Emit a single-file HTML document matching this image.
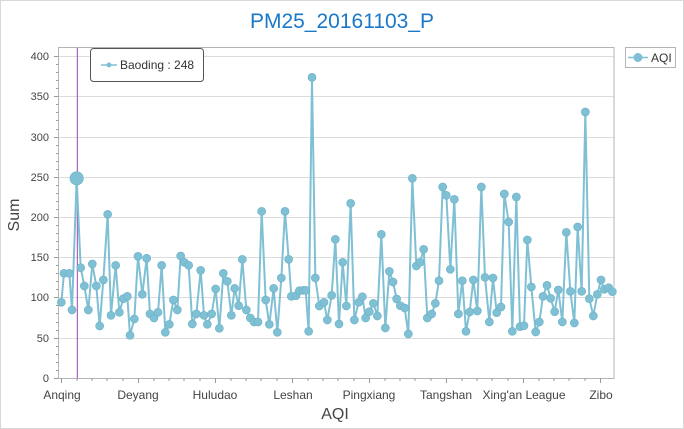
<!DOCTYPE html>
<html><head><meta charset="utf-8"><style>
html,body{margin:0;padding:0;background:#fff}
svg{display:block;font-family:"Liberation Sans",sans-serif}
</style></head><body>
<svg width="684" height="429" viewBox="0 0 684 429" xmlns="http://www.w3.org/2000/svg">
<rect x="0.5" y="0.5" width="683" height="428" fill="#fff" stroke="#d8d8d8"/>
<text x="342" y="28" text-anchor="middle" font-size="21" fill="#1a78c8">PM25_20161103_P</text>
<!-- grid -->
<g stroke="#dcdcdc" stroke-width="1">
<line x1="58" x2="614" y1="56.5" y2="56.5"/><line x1="58" x2="614" y1="96.5" y2="96.5"/>
<line x1="58" x2="614" y1="137.5" y2="137.5"/><line x1="58" x2="614" y1="177.5" y2="177.5"/>
<line x1="58" x2="614" y1="217.5" y2="217.5"/><line x1="58" x2="614" y1="257.5" y2="257.5"/>
<line x1="58" x2="614" y1="297.5" y2="297.5"/><line x1="58" x2="614" y1="338.5" y2="338.5"/>
</g>
<rect x="58.5" y="47.5" width="555.5" height="331" fill="none" stroke="#b4b4b4"/>
<!-- y labels -->
<g font-size="11" fill="#444" text-anchor="end">
<text x="49" y="60">400</text><text x="49" y="100">350</text><text x="49" y="141">300</text>
<text x="49" y="181">250</text><text x="49" y="221">200</text><text x="49" y="261">150</text>
<text x="49" y="301">100</text><text x="49" y="342">50</text><text x="49" y="382">0</text>
</g>
<g stroke="#999">
<line x1="54" x2="58" y1="56.5" y2="56.5"/><line x1="54" x2="58" y1="96.5" y2="96.5"/><line x1="54" x2="58" y1="137.5" y2="137.5"/><line x1="54" x2="58" y1="177.5" y2="177.5"/><line x1="54" x2="58" y1="217.5" y2="217.5"/><line x1="54" x2="58" y1="257.5" y2="257.5"/><line x1="54" x2="58" y1="297.5" y2="297.5"/><line x1="54" x2="58" y1="338.5" y2="338.5"/><line x1="54" x2="58" y1="378.5" y2="378.5"/>
<line x1="56" x2="58" y1="64.5" y2="64.5"/><line x1="56" x2="58" y1="72.5" y2="72.5"/><line x1="56" x2="58" y1="80.5" y2="80.5"/><line x1="56" x2="58" y1="88.5" y2="88.5"/>
<line x1="56" x2="58" y1="104.5" y2="104.5"/><line x1="56" x2="58" y1="112.5" y2="112.5"/><line x1="56" x2="58" y1="120.5" y2="120.5"/><line x1="56" x2="58" y1="129.5" y2="129.5"/>
<line x1="56" x2="58" y1="145.5" y2="145.5"/><line x1="56" x2="58" y1="153.5" y2="153.5"/><line x1="56" x2="58" y1="161.5" y2="161.5"/><line x1="56" x2="58" y1="169.5" y2="169.5"/>
<line x1="56" x2="58" y1="185.5" y2="185.5"/><line x1="56" x2="58" y1="193.5" y2="193.5"/><line x1="56" x2="58" y1="201.5" y2="201.5"/><line x1="56" x2="58" y1="209.5" y2="209.5"/>
<line x1="56" x2="58" y1="225.5" y2="225.5"/><line x1="56" x2="58" y1="233.5" y2="233.5"/><line x1="56" x2="58" y1="241.5" y2="241.5"/><line x1="56" x2="58" y1="249.5" y2="249.5"/>
<line x1="56" x2="58" y1="265.5" y2="265.5"/><line x1="56" x2="58" y1="273.5" y2="273.5"/><line x1="56" x2="58" y1="281.5" y2="281.5"/><line x1="56" x2="58" y1="289.5" y2="289.5"/>
<line x1="56" x2="58" y1="305.5" y2="305.5"/><line x1="56" x2="58" y1="313.5" y2="313.5"/><line x1="56" x2="58" y1="322.5" y2="322.5"/><line x1="56" x2="58" y1="330.5" y2="330.5"/>
<line x1="56" x2="58" y1="346.5" y2="346.5"/><line x1="56" x2="58" y1="354.5" y2="354.5"/><line x1="56" x2="58" y1="362.5" y2="362.5"/><line x1="56" x2="58" y1="370.5" y2="370.5"/>
</g>
<!-- x ticks -->
<g stroke="#999">
<line x1="61.5" x2="61.5" y1="378" y2="383"/><line x1="138.5" x2="138.5" y1="378" y2="383"/><line x1="215.5" x2="215.5" y1="378" y2="383"/><line x1="292.5" x2="292.5" y1="378" y2="383"/><line x1="369.5" x2="369.5" y1="378" y2="383"/><line x1="446.5" x2="446.5" y1="378" y2="383"/><line x1="523.5" x2="523.5" y1="378" y2="383"/><line x1="600.5" x2="600.5" y1="378" y2="383"/>
<line x1="77" x2="77" y1="378" y2="381"/><line x1="92" x2="92" y1="378" y2="381"/><line x1="107" x2="107" y1="378" y2="381"/><line x1="123" x2="123" y1="378" y2="381"/>
<line x1="154" x2="154" y1="378" y2="381"/><line x1="169" x2="169" y1="378" y2="381"/><line x1="184" x2="184" y1="378" y2="381"/><line x1="200" x2="200" y1="378" y2="381"/>
<line x1="231" x2="231" y1="378" y2="381"/><line x1="246" x2="246" y1="378" y2="381"/><line x1="261" x2="261" y1="378" y2="381"/><line x1="277" x2="277" y1="378" y2="381"/>
<line x1="308" x2="308" y1="378" y2="381"/><line x1="323" x2="323" y1="378" y2="381"/><line x1="338" x2="338" y1="378" y2="381"/><line x1="354" x2="354" y1="378" y2="381"/>
<line x1="385" x2="385" y1="378" y2="381"/><line x1="400" x2="400" y1="378" y2="381"/><line x1="415" x2="415" y1="378" y2="381"/><line x1="431" x2="431" y1="378" y2="381"/>
<line x1="462" x2="462" y1="378" y2="381"/><line x1="477" x2="477" y1="378" y2="381"/><line x1="492" x2="492" y1="378" y2="381"/><line x1="508" x2="508" y1="378" y2="381"/>
<line x1="539" x2="539" y1="378" y2="381"/><line x1="554" x2="554" y1="378" y2="381"/><line x1="569" x2="569" y1="378" y2="381"/><line x1="585" x2="585" y1="378" y2="381"/>
</g>
<g font-size="12" fill="#444" text-anchor="middle">
<text x="62" y="399">Anqing</text><text x="138" y="399">Deyang</text><text x="215" y="399">Huludao</text><text x="293" y="399">Leshan</text><text x="369" y="399">Pingxiang</text><text x="446" y="399">Tangshan</text><text x="524" y="399">Xing'an League</text><text x="601" y="399">Zibo</text>
</g>
<text x="335" y="419" text-anchor="middle" font-size="16" fill="#444">AQI</text>
<text transform="translate(19,215) rotate(-90)" text-anchor="middle" font-size="16" fill="#444">Sum</text>
<!-- crosshair -->
<line x1="77.3" x2="77.3" y1="48" y2="378" stroke="#a040b0" stroke-width="1"/>
<!-- series left -->
<g transform="translate(40,40) scale(0.33333)">
<polyline fill="none" stroke="#7fc0d4" stroke-width="6" stroke-linejoin="round" points="64,787 72,700 88,700 96,810 110,415 122,683 133,738 145,810 157,672 169,738 179,858 190,720 203,523 213,826 227,676 238,817 250,776 262,769 270,886 283,837 294,649 307,763 320,655 330,822 342,834 354,817 365,676 376,877 388,853 400,780 412,810 422,648 433,667 446,676 457,852 469,822 482,691 492,826 502,853 515,822 527,747 538,865 550,700 562,724 574,826 584,745 596,797 607,658 619,810 631,834 642,846 654,846 665,514 677,780 688,853 701,745 712,877 724,714 735,514 746,658 754,769 768,767 778,752 790,751 797,751 806,874 816,112 826,714 838,798"/>
<g fill="#7fc0d4" stroke="#6eb3c8" stroke-width="2">
<circle cx="64" cy="787" r="12"/><circle cx="72" cy="700" r="12"/><circle cx="88" cy="700" r="12"/><circle cx="96" cy="810" r="12"/><circle cx="110" cy="415" r="20"/><circle cx="122" cy="683" r="12"/><circle cx="133" cy="738" r="12"/><circle cx="145" cy="810" r="12"/><circle cx="157" cy="672" r="12"/><circle cx="169" cy="738" r="12"/><circle cx="179" cy="858" r="12"/><circle cx="190" cy="720" r="12"/><circle cx="203" cy="523" r="12"/><circle cx="213" cy="826" r="12"/><circle cx="227" cy="676" r="12"/><circle cx="238" cy="817" r="12"/><circle cx="250" cy="776" r="12"/><circle cx="262" cy="769" r="12"/><circle cx="270" cy="886" r="12"/><circle cx="283" cy="837" r="12"/><circle cx="294" cy="649" r="12"/><circle cx="307" cy="763" r="12"/><circle cx="320" cy="655" r="12"/><circle cx="330" cy="822" r="12"/><circle cx="342" cy="834" r="12"/><circle cx="354" cy="817" r="12"/><circle cx="365" cy="676" r="12"/><circle cx="376" cy="877" r="12"/><circle cx="388" cy="853" r="12"/><circle cx="400" cy="780" r="12"/><circle cx="412" cy="810" r="12"/><circle cx="422" cy="648" r="12"/><circle cx="433" cy="667" r="12"/><circle cx="446" cy="676" r="12"/><circle cx="457" cy="852" r="12"/><circle cx="469" cy="822" r="12"/><circle cx="482" cy="691" r="12"/><circle cx="492" cy="826" r="12"/><circle cx="502" cy="853" r="12"/><circle cx="515" cy="822" r="12"/><circle cx="527" cy="747" r="12"/><circle cx="538" cy="865" r="12"/><circle cx="550" cy="700" r="12"/><circle cx="562" cy="724" r="12"/><circle cx="574" cy="826" r="12"/><circle cx="584" cy="745" r="12"/><circle cx="596" cy="797" r="12"/><circle cx="607" cy="658" r="12"/><circle cx="619" cy="810" r="12"/><circle cx="631" cy="834" r="12"/><circle cx="642" cy="846" r="12"/><circle cx="654" cy="846" r="12"/><circle cx="665" cy="514" r="12"/><circle cx="677" cy="780" r="12"/><circle cx="688" cy="853" r="12"/><circle cx="701" cy="745" r="12"/><circle cx="712" cy="877" r="12"/><circle cx="724" cy="714" r="12"/><circle cx="735" cy="514" r="12"/><circle cx="746" cy="658" r="12"/><circle cx="754" cy="769" r="12"/><circle cx="768" cy="767" r="12"/><circle cx="778" cy="752" r="12"/><circle cx="790" cy="751" r="12"/><circle cx="797" cy="751" r="12"/><circle cx="806" cy="874" r="12"/><circle cx="816" cy="112" r="12"/><circle cx="826" cy="714" r="12"/><circle cx="838" cy="798" r="12"/>
</g></g>
<!-- series right -->
<g transform="translate(320,40) scale(0.33333)">
<polyline fill="none" stroke="#7fc0d4" stroke-width="6" stroke-linejoin="round" points="-2,798 12,787 22,840 35,766 46,598 57,852 68,667 79,798 92,490 103,840 116,787 127,770 137,834 148,815 160,790 172,828 184,583 196,864 208,694 219,726 230,777 241,797 254,804 265,882 277,415 289,678 300,667 311,628 322,834 335,822 346,790 357,722 368,441 379,466 391,688 403,478 415,822 427,722 438,874 449,816 460,720 472,813 484,441 495,712 508,846 519,714 530,818 543,801 553,462 566,546 577,874 589,471 600,860 612,857 622,600 634,741 647,876 658,846 669,769 681,736 692,775 704,815 715,750 727,846 739,577 751,754 763,849 773,561 785,754 796,216 808,776 820,828 832,763 843,720 853,748 866,743 877,755"/>
<g fill="#7fc0d4" stroke="#6eb3c8" stroke-width="2">
<circle cx="12" cy="787" r="12"/><circle cx="22" cy="840" r="12"/><circle cx="35" cy="766" r="12"/><circle cx="46" cy="598" r="12"/><circle cx="57" cy="852" r="12"/><circle cx="68" cy="667" r="12"/><circle cx="79" cy="798" r="12"/><circle cx="92" cy="490" r="12"/><circle cx="103" cy="840" r="12"/><circle cx="116" cy="787" r="12"/><circle cx="127" cy="770" r="12"/><circle cx="137" cy="834" r="12"/><circle cx="148" cy="815" r="12"/><circle cx="160" cy="790" r="12"/><circle cx="172" cy="828" r="12"/><circle cx="184" cy="583" r="12"/><circle cx="196" cy="864" r="12"/><circle cx="208" cy="694" r="12"/><circle cx="219" cy="726" r="12"/><circle cx="230" cy="777" r="12"/><circle cx="241" cy="797" r="12"/><circle cx="254" cy="804" r="12"/><circle cx="265" cy="882" r="12"/><circle cx="277" cy="415" r="12"/><circle cx="289" cy="678" r="12"/><circle cx="300" cy="667" r="12"/><circle cx="311" cy="628" r="12"/><circle cx="322" cy="834" r="12"/><circle cx="335" cy="822" r="12"/><circle cx="346" cy="790" r="12"/><circle cx="357" cy="722" r="12"/><circle cx="368" cy="441" r="12"/><circle cx="379" cy="466" r="12"/><circle cx="391" cy="688" r="12"/><circle cx="403" cy="478" r="12"/><circle cx="415" cy="822" r="12"/><circle cx="427" cy="722" r="12"/><circle cx="438" cy="874" r="12"/><circle cx="449" cy="816" r="12"/><circle cx="460" cy="720" r="12"/><circle cx="472" cy="813" r="12"/><circle cx="484" cy="441" r="12"/><circle cx="495" cy="712" r="12"/><circle cx="508" cy="846" r="12"/><circle cx="519" cy="714" r="12"/><circle cx="530" cy="818" r="12"/><circle cx="543" cy="801" r="12"/><circle cx="553" cy="462" r="12"/><circle cx="566" cy="546" r="12"/><circle cx="577" cy="874" r="12"/><circle cx="589" cy="471" r="12"/><circle cx="600" cy="860" r="12"/><circle cx="612" cy="857" r="12"/><circle cx="622" cy="600" r="12"/><circle cx="634" cy="741" r="12"/><circle cx="647" cy="876" r="12"/><circle cx="658" cy="846" r="12"/><circle cx="669" cy="769" r="12"/><circle cx="681" cy="736" r="12"/><circle cx="692" cy="775" r="12"/><circle cx="704" cy="815" r="12"/><circle cx="715" cy="750" r="12"/><circle cx="727" cy="846" r="12"/><circle cx="739" cy="577" r="12"/><circle cx="751" cy="754" r="12"/><circle cx="763" cy="849" r="12"/><circle cx="773" cy="561" r="12"/><circle cx="785" cy="754" r="12"/><circle cx="796" cy="216" r="12"/><circle cx="808" cy="776" r="12"/><circle cx="820" cy="828" r="12"/><circle cx="832" cy="763" r="12"/><circle cx="843" cy="720" r="12"/><circle cx="853" cy="748" r="12"/><circle cx="866" cy="743" r="12"/><circle cx="877" cy="755" r="12"/>
</g></g>
<!-- tooltip -->
<rect x="90.5" y="48.5" width="113" height="33" rx="3" fill="#fff" stroke="#555"/>
<line x1="101" x2="117" y1="65" y2="65" stroke="#7fc0d4" stroke-width="1.5"/>
<circle cx="109" cy="65" r="2.5" fill="#7fc0d4"/>
<text x="120" y="69" font-size="12" fill="#333">Baoding : 248</text>
<!-- legend -->
<rect x="625.5" y="47.5" width="50" height="20" fill="#fff" stroke="#b4b4b4"/>
<line x1="628" x2="648" y1="57.5" y2="57.5" stroke="#7fc0d4" stroke-width="1.5"/>
<circle cx="638" cy="57.5" r="4.5" fill="#7fc0d4"/>
<text x="651" y="62" font-size="12" fill="#333">AQI</text>
</svg>
</body></html>
